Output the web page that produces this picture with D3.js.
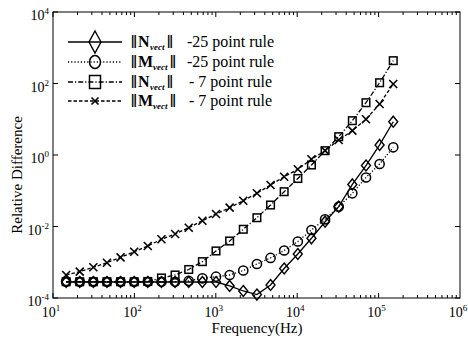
<!DOCTYPE html>
<html><head><meta charset="utf-8">
<script src="https://cdn.jsdelivr.net/npm/d3@7/dist/d3.min.js"></script>
<style>body{margin:0;background:#fff}svg{display:block}text{font-family:"Liberation Serif","Times New Roman",serif;fill:#000}</style>
</head><body>
<script>
// Data
const freq = [14.5, 21.3, 31.3, 46, 67.6, 99.4, 146, 215, 316, 465, 684, 1006, 1479, 2175, 3199, 4705, 6918, 10174, 14962, 22003, 32359, 47588, 69984, 102920, 151356];
const nVect25 = [2.8e-4, 2.8e-4, 2.8e-4, 2.8e-4, 2.8e-4, 2.8e-4, 2.8e-4, 2.8e-4, 2.8e-4, 2.8e-4, 2.8e-4, 2.8e-4, 2.17e-4, 1.57e-4, 1.25e-4, 2.31e-4, 6.68e-4, 1.70e-3, 4.68e-3, 0.0136, 0.0358, 0.150, 0.508, 1.91, 8.53];
const mVect25 = [2.85e-4, 2.85e-4, 2.85e-4, 2.85e-4, 2.85e-4, 2.85e-4, 2.85e-4, 2.85e-4, 2.85e-4, 3.0e-4, 3.56e-4, 3.94e-4, 4.40e-4, 5.87e-4, 8.93e-4, 1.32e-3, 2.13e-3, 3.80e-3, 7.98e-3, 0.0159, 0.0358, 0.0849, 0.235, 0.560, 1.64];
const nVect7 = [2.85e-4, 2.85e-4, 2.85e-4, 2.85e-4, 2.85e-4, 2.85e-4, 2.9e-4, 3.63e-4, 4.40e-4, 6.27e-4, 1.04e-3, 2.07e-3, 3.93e-3, 8.36e-3, 0.0176, 0.0399, 0.0940, 0.220, 0.525, 1.32, 3.25, 9.12, 29.0, 105, 435];
const mVect7 = [4.40e-4, 5.45e-4, 7.23e-4, 9.70e-4, 1.37e-3, 1.97e-3, 2.85e-3, 4.39e-3, 6.17e-3, 9.25e-3, 0.0145, 0.0224, 0.0336, 0.0527, 0.0849, 0.145, 0.247, 0.398, 0.759, 1.32, 2.63, 4.79, 9.98, 26.7, 96.8];
const xTickExps = [1, 2, 3, 4, 5, 6];
const yTickExps = [4, 2, 0, -2, -4];
const legendRules = ["-25 point rule", "-25 point rule", "- 7 point rule", "- 7 point rule"];
const legendSymbols = ["N", "M", "N", "M"];

const W = 468, H = 342;
const L = 53, R = 460, T = 12, B = 298;
const svg = d3.select("body").append("svg").attr("width", W).attr("height", H);
const x = d3.scaleLog().domain([1e1, 1e6]).range([L, R]);
const y = d3.scaleLog().domain([1e-4, 1e4]).range([B, T]);

const series = [
  {vals: nVect25, dash: null, marker: "diamond"},
  {vals: mVect25, dash: "1.2,2", marker: "circle"},
  {vals: nVect7, dash: "5,2,1.2,2", marker: "square"},
  {vals: mVect7, dash: "3.5,2", marker: "cross"}
];

function drawMarker(g, type, cx, cy, big) {
  if (type === "diamond") {
    const w = big ? 6 : 4.5, h = big ? 11 : 5.5;
    g.append("path").attr("d", `M${cx},${cy-h}L${cx+w},${cy}L${cx},${cy+h}L${cx-w},${cy}Z`)
      .attr("fill", "none").attr("stroke", "#000").attr("stroke-width", 1.4);
  } else if (type === "circle") {
    g.append("ellipse").attr("cx", cx).attr("cy", cy).attr("rx", big ? 5.5 : 4.6).attr("ry", big ? 6.5 : 4.6)
      .attr("fill", "none").attr("stroke", "#000").attr("stroke-width", 1.5);
  } else if (type === "square") {
    const w = big ? 5.5 : 3.8, h = big ? 6.5 : 3.8;
    g.append("rect").attr("x", cx - w).attr("y", cy - h).attr("width", 2*w).attr("height", 2*h)
      .attr("fill", "none").attr("stroke", "#000").attr("stroke-width", 1.5);
  } else {
    const r = big ? 3.5 : 4;
    g.append("path").attr("d", `M${cx-r},${cy-r}L${cx+r},${cy+r}M${cx-r},${cy+r}L${cx+r},${cy-r}`)
      .attr("stroke", "#000").attr("stroke-width", 1.6);
  }
}

const plot = svg.append("g");
series.forEach(s => {
  const line = d3.line().x((d, i) => x(freq[i])).y(d => y(d));
  plot.append("path").attr("d", line(s.vals)).attr("fill", "none").attr("stroke", "#000")
    .attr("stroke-width", 1.3).attr("stroke-dasharray", s.dash);
  s.vals.forEach((v, i) => drawMarker(plot, s.marker, x(freq[i]), y(v), false));
});

// Box
svg.append("rect").attr("x", L).attr("y", T).attr("width", R - L).attr("height", B - T)
  .attr("fill", "none").attr("stroke", "#000").attr("stroke-width", 1);

// X ticks (major + minor, inward, top and bottom)
const ax = svg.append("g");
for (let e = 1; e < 6; e++) {
  for (let m = 1; m < 10; m++) {
    const v = m * Math.pow(10, e);
    const px = x(v);
    const len = m === 1 ? 5 : 3;
    ax.append("line").attr("x1", px).attr("x2", px).attr("y1", B).attr("y2", B - len).attr("stroke", "#000");
    ax.append("line").attr("x1", px).attr("x2", px).attr("y1", T).attr("y2", T + len).attr("stroke", "#000");
  }
}
xTickExps.forEach(e => {
  const px = x(Math.pow(10, e));
  const t = ax.append("text").attr("x", px - 2).attr("y", 317).attr("text-anchor", "middle").attr("font-size", 14);
  t.append("tspan").text("10");
  t.append("tspan").attr("dy", -6).attr("font-size", 9).text(e);
});
// Y ticks
yTickExps.forEach(e => {
  const py = y(Math.pow(10, e));
  ax.append("line").attr("x1", L).attr("x2", L + 5).attr("y1", py).attr("y2", py).attr("stroke", "#000");
  ax.append("line").attr("x1", R).attr("x2", R - 5).attr("y1", py).attr("y2", py).attr("stroke", "#000");
  const t = ax.append("text").attr("x", 49).attr("y", py + 8).attr("text-anchor", "end").attr("font-size", 14);
  t.append("tspan").text("10");
  t.append("tspan").attr("dy", -6).attr("font-size", 9).text(e);
});

// Axis titles
svg.append("text").attr("x", 257).attr("y", 333).attr("text-anchor", "middle").attr("font-size", 15).text("Frequency(Hz)");
svg.append("text").attr("transform", "translate(22,175) rotate(-90)").attr("text-anchor", "middle").attr("font-size", 15).text("Relative Difference");

// Legend
const lg = svg.append("g");
const rows = [42, 62, 82, 101];
series.forEach((s, i) => {
  const ry = rows[i];
  lg.append("line").attr("x1", 68).attr("x2", 122).attr("y1", ry).attr("y2", ry).attr("stroke", "#000")
    .attr("stroke-width", 1.4).attr("stroke-dasharray", s.dash);
  drawMarker(lg, s.marker, 95, ry, true);
  const isM = legendSymbols[i] === "M";
  const row = lg.append("g");
  row.append("text").attr("x", 131).attr("y", ry + 6).attr("font-size", 18).attr("font-weight", "bold").text("‖");
  row.append("text").attr("x", 138).attr("y", ry + 5).attr("font-size", 16).attr("font-weight", "bold").text(legendSymbols[i]);
  row.append("text").attr("x", isM ? 153 : 150).attr("y", ry + 8).attr("font-size", 9).attr("font-style", "italic").attr("font-weight", "bold").text("vect");
  row.append("text").attr("x", isM ? 170 : 167).attr("y", ry + 6).attr("font-size", 18).attr("font-weight", "bold").text("‖");
  row.append("text").attr("x", i < 2 ? 187 : 189).attr("y", ry + 5).attr("font-size", 16).text(legendRules[i]);
});
</script>
</body></html>
